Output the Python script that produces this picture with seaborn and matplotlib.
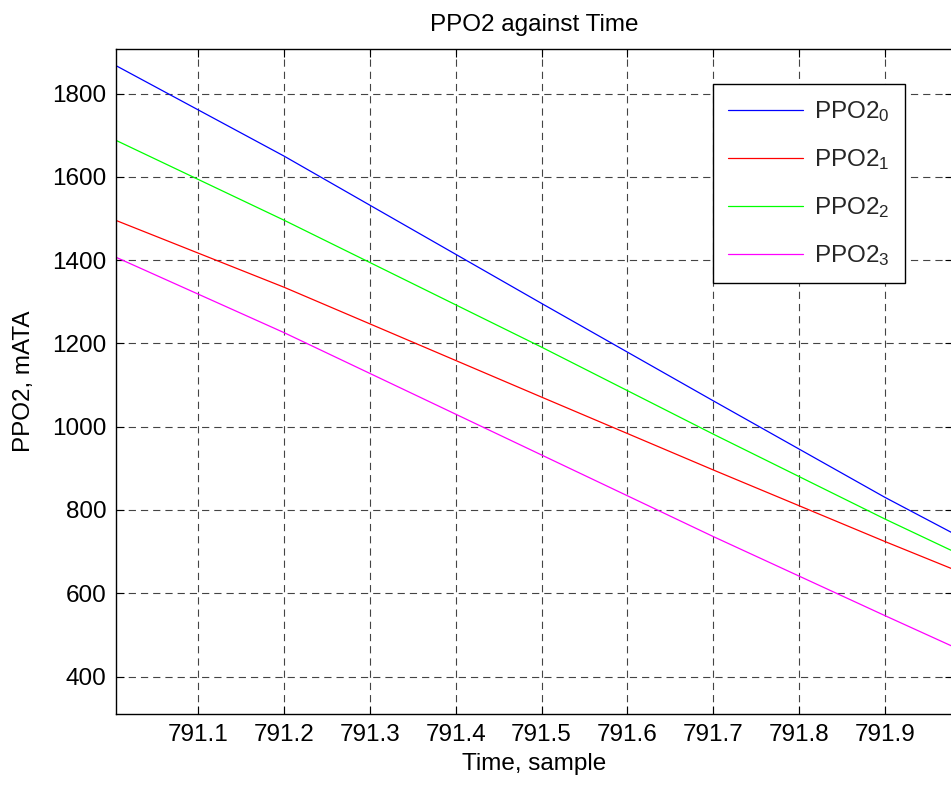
import matplotlib
matplotlib.use("Agg")
import matplotlib.pyplot as plt
import numpy as np
import pandas as pd
import seaborn as sns

# Sample times and PPO2 readings for each sensor channel
time = [791.0, 791.2, 791.5, 791.7, 791.9, 791.98]
ppo2_0 = [1872, 1650, 1296, 1062, 830, 743]
ppo2_1 = [1499, 1335, 1071, 896, 724, 657]
ppo2_2 = [1692, 1496, 1191, 982, 778, 700]
ppo2_3 = [1411, 1226, 932, 736, 546, 471]

series_names = ["PPO2$_\\mathregular{0}$", "PPO2$_\\mathregular{1}$",
                "PPO2$_\\mathregular{2}$", "PPO2$_\\mathregular{3}$"]
series_values = [ppo2_0, ppo2_1, ppo2_2, ppo2_3]
series_colors = ["#0000ff", "#ff0000", "#00ff00", "#ff00ff"]

x_ticks = [791.1, 791.2, 791.3, 791.4, 791.5, 791.6, 791.7, 791.8, 791.9]
y_ticks = [400, 600, 800, 1000, 1200, 1400, 1600, 1800]

frames = [pd.DataFrame({"time": time, "ppo2": vals, "channel": name})
          for name, vals in zip(series_names, series_values)]
df = pd.concat(frames, ignore_index=True)

sns.set_theme(style="ticks")
plt.rcParams["font.family"] = ["Liberation Sans", "DejaVu Sans"]
plt.rcParams["mathtext.default"] = "regular"

W, H = 951, 785
fig = plt.figure(figsize=(W / 100, H / 100), dpi=100)
left, right, top, bottom = 116, 953, 49, 714
ax = fig.add_axes([left / W, 1 - bottom / H, (right - left) / W, (bottom - top) / H])

sns.lineplot(data=df, x="time", y="ppo2", hue="channel",
             palette=dict(zip(series_names, series_colors)),
             linewidth=0.9, ax=ax, legend=False)

ax.set_xlim(791.0045, 791.979)
ax.set_ylim(310, 1907)
ax.set_xticks(x_ticks)
ax.set_xticklabels([f"{v:.1f}" for v in x_ticks])
ax.set_yticks(y_ticks)
ax.set_yticklabels([str(v) for v in y_ticks])

fs = 17.5
ax.tick_params(axis="both", direction="in", length=6, width=0.8, colors="black",
               labelsize=fs, top=True, right=True, pad=7)
ax.grid(True, linestyle=(0, (6.5, 4.5)), color="#444444", linewidth=0.8)
for name, sp in ax.spines.items():
    sp.set_color("black")
    sp.set_linewidth(1.0)
ax.spines["right"].set_visible(False)

ax.set_xlabel("Time, sample", fontsize=fs, color="black", labelpad=5)
ax.set_ylabel("PPO2, mATA", fontsize=fs, color="black", labelpad=12)
ax.set_title("PPO2 against Time", fontsize=fs, color="black", pad=13)

handles = [plt.Line2D([], [], color=c, linewidth=0.9) for c in series_colors]
leg = fig.legend(handles, series_names, loc="upper left",
                 bbox_to_anchor=(713 / W, 1 - 84 / H), borderaxespad=0,
                 fontsize=fs, frameon=True, fancybox=False, framealpha=1,
                 edgecolor="black", handlelength=3.1, handletextpad=0.45,
                 borderpad=0.62, labelspacing=0.95)
leg.get_frame().set_linewidth(1.0)

fig.savefig("out.png", dpi=100)
